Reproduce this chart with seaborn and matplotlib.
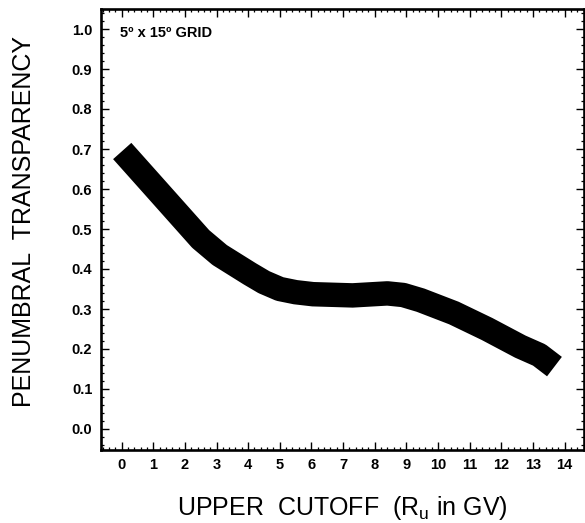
import matplotlib
matplotlib.use("Agg")
import matplotlib.pyplot as plt
from matplotlib.ticker import MultipleLocator
import seaborn as sns

# ── data ──────────────────────────────────────────────────────────────────────
cutoff = [0.02, 0.9, 1.7, 2.5, 3.1, 4.05, 4.5, 5.0, 5.5, 6.05, 7.3, 8.4, 8.9,
          9.45, 10.5, 11.55, 12.6, 13.2, 13.68]
transparency = [0.695, 0.617, 0.546, 0.475, 0.435, 0.388, 0.367, 0.350, 0.342,
                0.337, 0.334, 0.339, 0.335, 0.322, 0.290, 0.250, 0.206, 0.185, 0.156]

x_ticks = list(range(0, 15))
y_ticks = [0.0, 0.1, 0.2, 0.3, 0.4, 0.5, 0.6, 0.7, 0.8, 0.9, 1.0]

sns.set_style("ticks", {"text.color": "black", "axes.labelcolor": "black",
                        "xtick.color": "black", "ytick.color": "black"})
plt.rcParams["font.family"] = ["Liberation Sans", "DejaVu Sans"]
plt.rcParams["mathtext.default"] = "regular"

fig = plt.figure(figsize=(5.85, 5.23), dpi=100)
ax = fig.add_axes([100.7 / 585, 1 - 450 / 523, 483.5 / 585, 441 / 523])

sns.lineplot(x=cutoff, y=transparency, color="black", linewidth=17.6,
             solid_capstyle="butt", solid_joinstyle="round", ax=ax)

ax.set_xlim(-0.66, 14.62)
ax.set_ylim(-0.0525, 1.05)
ax.set_xticks(x_ticks)
ax.set_yticks(y_ticks)
ax.set_xticklabels([str(t) for t in x_ticks], fontsize=10.5, fontweight="bold")
ax.set_yticklabels([f"{t:.1f}" for t in y_ticks], fontsize=10.5, fontweight="bold")
ax.xaxis.set_minor_locator(MultipleLocator(0.2))
ax.yaxis.set_minor_locator(MultipleLocator(0.02))

ax.tick_params(which="both", direction="in", top=True, right=True,
               color="black", labelcolor="black")
ax.tick_params(which="major", length=5.5, width=1.0, pad=6)
ax.tick_params(which="minor", length=2.5, width=0.9)
for side in ax.spines.values():
    side.set_visible(True)
    side.set_linewidth(1.9)
    side.set_color("black")

ax.set_xlabel("UPPER  CUTOFF  (R$_{\\mathregular{u}}$ in GV)", fontsize=18, color="black")
ax.set_ylabel("PENUMBRAL  TRANSPARENCY", fontsize=18, color="black")
ax.xaxis.set_label_coords(0.5, -(508 - 450) / 441)
ax.xaxis.label.set_verticalalignment("center")
ax.yaxis.set_label_coords((24 - 100.7) / 483.5, (450 - 221) / 441)
ax.yaxis.label.set_verticalalignment("center")

ax.text(0.04, 0.946, "5º x 15º GRID", transform=ax.transAxes, color="black",
        fontsize=10.5, fontweight="bold", va="center", ha="left")

fig.savefig("out.png", dpi=100)
